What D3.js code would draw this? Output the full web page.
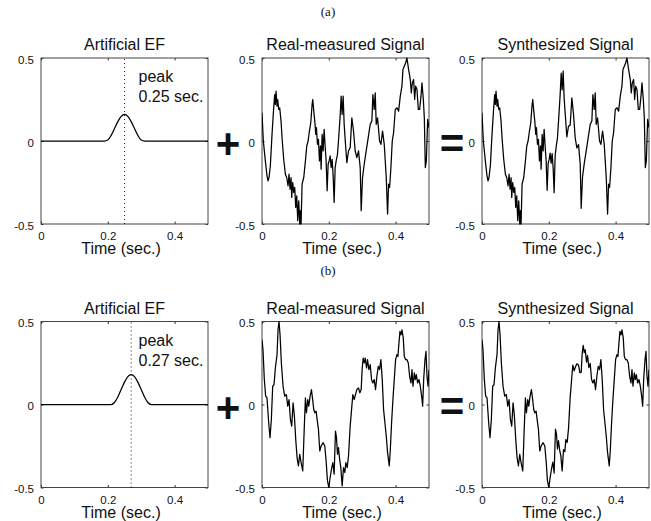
<!DOCTYPE html>
<html>
<head>
<meta charset="utf-8">
<script src="https://cdn.jsdelivr.net/npm/d3@7"></script>
<style>
  html, body { margin: 0; padding: 0; background: #fff; }
  svg { display: block; }
  text { font-family: "Liberation Sans", Arial, Helvetica, sans-serif; fill: #111; }
  .caption { font-family: "Liberation Serif", "Times New Roman", serif; }
</style>
</head>
<body>
<svg id="fig" width="651" height="521"></svg>
<script>
// ---- data -------------------------------------------------------------
const xTicks = [0, 0.2, 0.4];
const yTicks = [-0.5, 0, 0.5];
const panelTitles = ["Artificial EF", "Real-measured Signal", "Synthesized Signal"];
const rowCaptions = ["(a)", "(b)"];
const peakTimes = [0.25, 0.27];

// artificial evoked field (time, amplitude)
const efTimesA  = [0, 0.19, 0.20, 0.21, 0.22, 0.23, 0.24, 0.25, 0.26, 0.27, 0.28, 0.29, 0.30, 0.31, 0.5];
const efValuesA = [0, 0, 0.006, 0.034, 0.075, 0.117, 0.148, 0.16, 0.148, 0.117, 0.075, 0.034, 0.006, 0, 0];
const efTimesB  = [0, 0.21, 0.22, 0.23, 0.24, 0.25, 0.26, 0.27, 0.28, 0.29, 0.30, 0.31, 0.32, 0.33, 0.5];
const efValuesB = [0, 0, 0.012, 0.045, 0.09, 0.135, 0.168, 0.18, 0.168, 0.135, 0.09, 0.045, 0.012, 0, 0];

// measured background signal, [time, amplitude]
const measuredA = [
  [0.000,0.17],[0.004,0.00],[0.010,-0.12],[0.015,-0.21],[0.018,-0.24],[0.021,-0.22],[0.025,-0.15],
  [0.030,0.04],[0.035,0.20],[0.038,0.28],[0.040,0.22],[0.042,0.30],[0.045,0.21],[0.047,0.25],
  [0.050,0.19],[0.053,0.20],[0.057,0.12],[0.060,0.02],[0.065,-0.11],[0.070,-0.20],[0.074,-0.22],
  [0.078,-0.27],[0.081,-0.20],[0.084,-0.29],[0.087,-0.22],[0.089,-0.34],[0.092,-0.25],[0.095,-0.31],
  [0.098,-0.28],[0.101,-0.40],[0.104,-0.33],[0.107,-0.48],[0.110,-0.36],[0.113,-0.50],[0.115,-0.42],
  [0.117,-0.50],[0.120,-0.26],[0.125,-0.22],[0.130,-0.12],[0.134,-0.03],[0.138,0.00],[0.142,0.06],
  [0.146,0.11],[0.150,0.22],[0.152,0.25],[0.155,0.18],[0.158,0.12],[0.161,0.04],[0.163,0.08],
  [0.166,-0.02],[0.169,0.01],[0.172,-0.12],[0.175,-0.03],[0.177,-0.17],[0.180,0.04],[0.183,-0.06],
  [0.186,0.07],[0.189,-0.03],[0.192,-0.12],[0.195,-0.30],[0.198,-0.14],[0.201,-0.12],[0.204,-0.09],
  [0.207,-0.16],[0.210,-0.11],[0.213,-0.21],[0.216,-0.37],[0.219,-0.16],[0.222,-0.12],[0.226,-0.08],
  [0.230,0.03],[0.234,0.15],[0.237,0.27],[0.240,0.16],[0.243,0.27],[0.246,0.10],[0.250,-0.02],
  [0.254,-0.13],[0.259,-0.06],[0.264,-0.04],[0.269,0.14],[0.274,0.06],[0.279,-0.06],[0.284,-0.10],
  [0.289,-0.06],[0.294,-0.16],[0.297,-0.42],[0.301,-0.22],[0.306,-0.14],[0.312,-0.06],[0.318,0.02],
  [0.324,0.10],[0.329,0.12],[0.332,0.28],[0.336,0.19],[0.339,0.29],[0.342,0.10],[0.346,0.14],
  [0.352,0.00],[0.356,-0.02],[0.361,0.06],[0.366,-0.02],[0.372,-0.22],[0.376,-0.44],[0.379,-0.26],
  [0.382,-0.28],[0.386,-0.16],[0.390,0.00],[0.394,0.05],[0.399,0.19],[0.404,0.20],[0.409,0.18],
  [0.414,0.27],[0.419,0.33],[0.422,0.43],[0.426,0.45],[0.430,0.47],[0.434,0.50],[0.439,0.43],
  [0.444,0.37],[0.447,0.29],[0.450,0.35],[0.454,0.37],[0.457,0.25],[0.460,0.33],[0.464,0.31],
  [0.468,0.19],[0.472,0.19],[0.476,0.27],[0.479,0.35],[0.483,0.25],[0.486,0.14],[0.489,-0.16],
  [0.492,-0.12],[0.496,0.13],[0.500,0.08]
];

const measuredB = [
  [0.000,0.39],[0.003,0.33],[0.007,0.15],[0.011,0.05],[0.015,0.04],[0.020,-0.11],[0.024,-0.20],
  [0.028,-0.09],[0.032,0.11],[0.036,0.12],[0.040,0.22],[0.045,0.30],[0.048,0.45],[0.051,0.50],
  [0.054,0.42],[0.058,0.25],[0.063,0.11],[0.068,0.05],[0.073,0.06],[0.077,-0.01],[0.081,0.03],
  [0.085,-0.09],[0.089,-0.13],[0.093,0.01],[0.097,-0.07],[0.101,-0.21],[0.105,-0.32],[0.109,-0.37],
  [0.113,-0.30],[0.117,-0.35],[0.122,-0.40],[0.126,-0.17],[0.130,0.04],[0.133,-0.05],[0.137,0.03],
  [0.140,-0.01],[0.144,0.05],[0.148,0.09],[0.151,0.04],[0.155,-0.03],[0.158,-0.05],[0.162,-0.04],
  [0.165,-0.09],[0.169,-0.15],[0.173,-0.28],[0.177,-0.25],[0.183,-0.23],[0.188,-0.25],[0.192,-0.34],
  [0.196,-0.46],[0.200,-0.50],[0.204,-0.44],[0.208,-0.39],[0.212,-0.35],[0.216,-0.42],[0.220,-0.16],
  [0.223,-0.20],[0.226,-0.30],[0.229,-0.26],[0.233,-0.34],[0.236,-0.38],[0.240,-0.49],[0.244,-0.38],
  [0.248,-0.41],[0.251,-0.35],[0.255,-0.38],[0.259,-0.31],[0.264,-0.13],[0.269,-0.01],[0.272,0.06],
  [0.276,0.03],[0.280,0.06],[0.284,0.09],[0.289,0.10],[0.293,0.07],[0.297,0.09],[0.300,0.22],
  [0.303,0.28],[0.306,0.25],[0.309,0.28],[0.313,0.22],[0.316,0.27],[0.320,0.21],[0.324,0.24],
  [0.328,0.15],[0.332,0.13],[0.336,0.15],[0.340,0.09],[0.344,0.17],[0.348,0.23],[0.352,0.21],
  [0.356,0.27],[0.360,0.15],[0.364,-0.03],[0.368,-0.11],[0.372,-0.19],[0.376,-0.29],[0.381,-0.37],
  [0.384,-0.28],[0.388,-0.11],[0.392,0.03],[0.396,0.15],[0.400,0.27],[0.404,0.30],[0.407,0.29],
  [0.410,0.37],[0.413,0.44],[0.416,0.42],[0.419,0.45],[0.423,0.40],[0.426,0.29],[0.430,0.27],
  [0.434,0.27],[0.438,0.25],[0.442,0.17],[0.446,0.13],[0.449,0.21],[0.452,0.11],[0.456,0.19],
  [0.459,0.15],[0.462,0.18],[0.466,0.13],[0.470,0.15],[0.474,0.11],[0.478,0.05],[0.481,-0.01],
  [0.484,0.15],[0.488,0.27],[0.491,0.32],[0.494,0.17],[0.497,0.11],[0.500,0.21]
];

// ---- layout -----------------------------------------------------------
const svg = d3.select("#fig");
const panelLeft = [41, 262, 482];
const panelW = 167;
const rowTop = [58, 321.5];
const panelH = 166;
const operatorX = [228, 452];

const rows = [
  { ef: [efTimesA, efValuesA], measured: measuredA, peak: peakTimes[0], caption: rowCaptions[0] },
  { ef: [efTimesB, efValuesB], measured: measuredB, peak: peakTimes[1], caption: rowCaptions[1] }
];

const fmt = d => String(d);

rows.forEach((row, r) => {
  const top = rowTop[r];
  const efScale = d3.scaleLinear().domain(row.ef[0]).range(row.ef[1]).clamp(true);
  const efSeries = row.ef[0].map((t, i) => [t, row.ef[1][i]]);
  // synthesized trace = measured background + artificial field
  const synthSeries = row.measured.map(([t, v]) => [t, v + efScale(t)]);
  const seriesList = [efSeries, row.measured, synthSeries];

  // row caption
  svg.append("text").attr("class", "caption")
    .attr("x", 328).attr("y", r === 0 ? 16 : 275)
    .attr("text-anchor", "middle").attr("font-size", 13)
    .text(row.caption);

  seriesList.forEach((series, p) => {
    const left = panelLeft[p];
    const x = d3.scaleLinear().domain([0, 0.5]).range([left, left + panelW]);
    const y = d3.scaleLinear().domain([-0.5, 0.5]).range([top + panelH, top]);
    const g = svg.append("g");

    const clipId = `clip-${r}-${p}`;
    g.append("clipPath").attr("id", clipId)
      .append("rect").attr("x", left).attr("y", top - 1)
      .attr("width", panelW).attr("height", panelH + 2);

    // axes with short inward ticks on all four sides
    const bottom = g.append("g").attr("transform", `translate(0,${top + panelH})`)
      .call(d3.axisBottom(x).tickValues(xTicks).tickFormat(fmt).tickSizeInner(-2.5).tickSizeOuter(0).tickPadding(8));
    const topAx = g.append("g").attr("transform", `translate(0,${top})`)
      .call(d3.axisTop(x).tickValues(xTicks).tickFormat("").tickSizeInner(-2.5).tickSizeOuter(0));
    const leftAx = g.append("g").attr("transform", `translate(${left},0)`)
      .call(d3.axisLeft(y).tickValues(yTicks).tickFormat(fmt).tickSizeInner(-2.5).tickSizeOuter(0).tickPadding(7));
    const rightAx = g.append("g").attr("transform", `translate(${left + panelW},0)`)
      .call(d3.axisRight(y).tickValues(yTicks).tickFormat("").tickSizeInner(-2.5).tickSizeOuter(0));
    [bottom, topAx, leftAx, rightAx].forEach(a => {
      a.select(".domain").remove();
      a.selectAll("line").attr("stroke", "#333");
      a.selectAll("text").attr("font-size", 11.5)
        .attr("font-family", "'Liberation Sans', Arial, sans-serif").attr("fill", "#111");
    });
    leftAx.selectAll("text").attr("dy", "0.45em");

    // frame
    g.append("rect").attr("x", left).attr("y", top)
      .attr("width", panelW).attr("height", panelH)
      .attr("fill", "none").attr("stroke", "#444").attr("stroke-width", 1);

    // title and x label
    g.append("text").attr("x", left + panelW / 2).attr("y", top - 8)
      .attr("text-anchor", "middle").attr("font-size", 16).text(panelTitles[p]);
    g.append("text").attr("x", left + panelW / 2 - 3.5).attr("y", top + panelH + 30)
      .attr("text-anchor", "middle").attr("font-size", 16).text("Time (sec.)");

    // signal trace
    const line = d3.line().x(d => x(d[0])).y(d => y(d[1]))
      .curve(p === 0 ? d3.curveMonotoneX : d3.curveLinear);
    g.append("path").datum(series)
      .attr("clip-path", `url(#${clipId})`)
      .attr("fill", "none").attr("stroke", "#000")
      .attr("stroke-width", 1.25)
      .attr("stroke-linejoin", "round")
      .attr("d", line);

    if (p === 0) {
      // dotted marker at the peak latency
      g.append("line")
        .attr("x1", x(row.peak)).attr("x2", x(row.peak))
        .attr("y1", top + 1).attr("y2", top + panelH)
        .attr("stroke", "#222").attr("stroke-width", 1)
        .attr("stroke-dasharray", "1,3");
      g.append("text").attr("x", left + 97.5).attr("y", top + 24)
        .attr("font-size", 16).text("peak");
      g.append("text").attr("x", left + 97.5).attr("y", top + 44)
        .attr("font-size", 16).text(`${row.peak} sec.`);
    }
  });

  // operators between panels
  const midY = top + panelH / 2 + 2;
  svg.append("text").attr("x", operatorX[0]).attr("y", midY + 15)
    .attr("text-anchor", "middle").attr("font-size", 42).attr("font-weight", "bold").text("+");
  svg.append("text").attr("x", operatorX[1]).attr("y", midY + 14.5)
    .attr("text-anchor", "middle").attr("font-size", 42).attr("font-weight", "bold").text("=");
});
</script>
</body>
</html>
